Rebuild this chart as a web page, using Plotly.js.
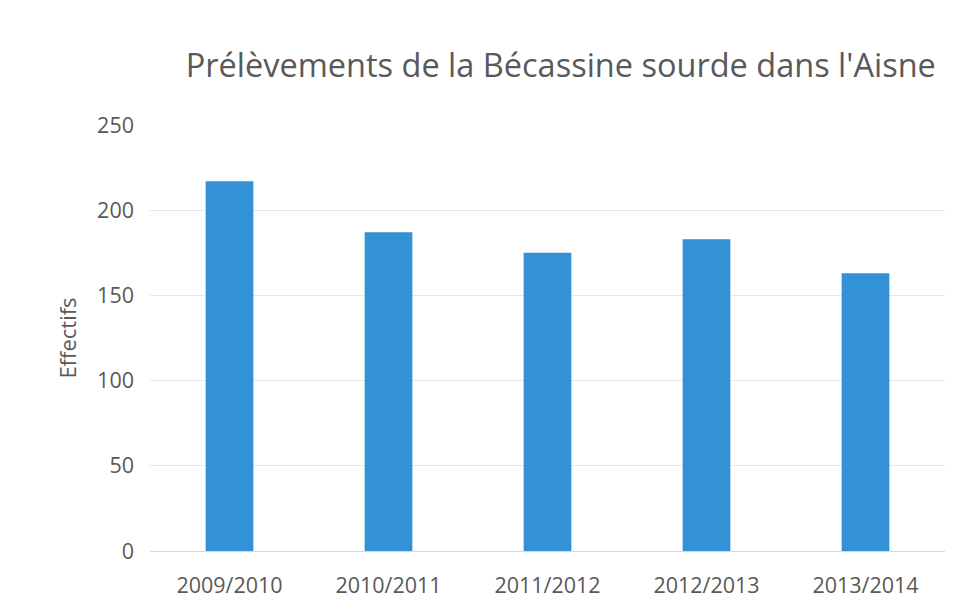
<!DOCTYPE html>
<html><head><meta charset="utf-8">
<script src="https://cdn.plot.ly/plotly-3.0.1.min.js"></script>
<style>html,body{margin:0;padding:0;background:#fff}#c{width:957px;height:611px}</style>
</head><body><div id="c"></div>
<script>
const seasons = ["2009/2010","2010/2011","2011/2012","2012/2013","2013/2014"];
const effectifs = [217, 187, 175, 183, 163];
const yTicks = [0,50,100,150,200,250];

Plotly.newPlot('c', [{
  type:'bar', x: seasons, y: effectifs,
  marker:{color:'#3391d6'}, hoverinfo:'x+y'
}], {
  width:957, height:611,
  paper_bgcolor:'#fff', plot_bgcolor:'#fff',
  margin:{l:150, r:12, t:125, b:60},
  bargap:0.7,
  font:{family:'Open Sans, sans-serif', color:'#595959'},
  title:{text:"Prélèvements de la Bécassine sourde dans l'Aisne", font:{size:32.5, color:'#595959'}, x:0.586, xanchor:'center', y:0.893, yanchor:'middle'},
  xaxis:{tickfont:{size:21.5,color:'#595959'}, showline:false, ticks:'', showgrid:false, ticklabelstandoff:19},
  yaxis:{range:[0,250], tickvals:yTicks, tickfont:{size:21.5,color:'#595959'}, gridcolor:'#e6e6e6', zeroline:true, zerolinecolor:'#d9d9d9', ticks:'', ticklen:0, ticklabelstandoff:15,
    title:{text:'Effectifs', font:{size:22,color:'#595959'}, standoff:14}},
  showlegend:false
}, {displayModeBar:false});
</script></body></html>
